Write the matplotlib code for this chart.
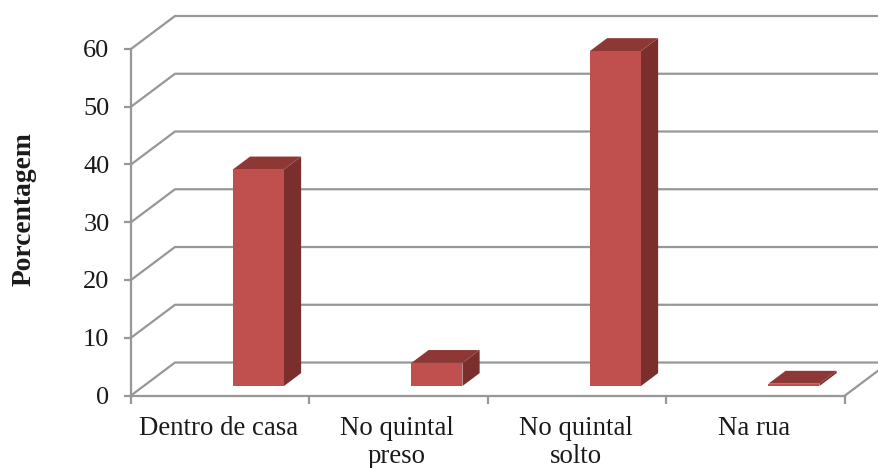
import matplotlib
matplotlib.use("Agg")
import matplotlib.pyplot as plt
from matplotlib.patches import Polygon

plt.rcParams['font.family'] = ['Liberation Serif', 'DejaVu Serif']

categories = ["Dentro de casa", "No quintal\npreso", "No quintal\nsolto", "Na rua"]
percentages = [37.5, 4.0, 58.0, 0.4]
y_ticks = [0, 10, 20, 30, 40, 50, 60]

# Oblique projection of the chart box: full depth shifts right and upward
DEPTH_X = 0.2465   # category units
DEPTH_Y = 5.71     # percentage units
BAR_WIDTH = 0.286
BAR_DEPTH_START = 0.288
BAR_DEPTH_END = 0.678

GRID = "#979797"
FRONT = "#C0504D"
TOP = "#8E3836"
SIDE = "#7A2F2D"
TEXT = "#1a1a1a"


def project(x, y, d):
    return (x + d * DEPTH_X, y + d * DEPTH_Y)


W, H = 879, 468
fig = plt.figure(figsize=(W / 100, H / 100), dpi=100, facecolor="white")
ax = fig.add_axes([131 / W, 1 - 395.5 / H, (845 + 44 - 131) / W, (395.5 - 16) / H])
ax.set_xlim(0, 4 + DEPTH_X)
ax.set_ylim(0, 60 + DEPTH_Y)
ax.patch.set_visible(False)
for side in ax.spines.values():
    side.set_visible(False)

# Back-wall gridlines, each joined to its axis tick by a slanted segment
for v in y_ticks:
    p0 = project(0, v, 0)
    p1 = project(0, v, 1)
    p2 = project(4, v, 1)
    ax.plot([p0[0], p1[0], p2[0]], [p0[1], p1[1], p2[1]], color=GRID, lw=1.6,
            solid_joinstyle="miter", clip_on=False, zorder=1)

# Axis lines and the right edge of the floor
ax.plot([0, 0], [0, 60], color=GRID, lw=1.6, clip_on=False, zorder=2)
ax.plot([0, 4], [0, 0], color=GRID, lw=1.6, clip_on=False, zorder=2)
p_end = project(4, 0, 1)
ax.plot([4, p_end[0]], [0, p_end[1]], color=GRID, lw=1.6, clip_on=False, zorder=2)

# Bars drawn as three visible faces
for i, v in enumerate(percentages):
    x0 = i + 0.5
    x1 = x0 + BAR_WIDTH
    a, b = BAR_DEPTH_START, BAR_DEPTH_END
    front = [project(x0, 0, a), project(x1, 0, a), project(x1, v, a), project(x0, v, a)]
    top = [project(x0, v, a), project(x1, v, a), project(x1, v, b), project(x0, v, b)]
    right = [project(x1, 0, a), project(x1, 0, b), project(x1, v, b), project(x1, v, a)]
    ax.add_patch(Polygon(right, closed=True, fc=SIDE, ec="none", zorder=3, clip_on=False))
    ax.add_patch(Polygon(top, closed=True, fc=TOP, ec="none", zorder=3, clip_on=False))
    ax.add_patch(Polygon(front, closed=True, fc=FRONT, ec="none", zorder=4, clip_on=False))

# Ticks
ax.set_yticks(y_ticks)
ax.set_yticklabels([str(v) for v in y_ticks], fontsize=19, color=TEXT)
ax.tick_params(axis="y", length=5, width=1.6, color=GRID, pad=10.5)
ax.set_xticks(range(5))
ax.set_xticklabels([""] * 5)
ax.tick_params(axis="x", length=5.5, width=1.6, color=GRID)
ax.set_xticks([i + 0.49 for i in range(4)], minor=True)
ax.set_xticklabels(categories, minor=True, fontsize=19.3, color=TEXT, linespacing=1.13)
ax.tick_params(axis="x", which="minor", length=0, pad=15)

fig.text(24 / W, 1 - 209 / H, "Porcentagem", rotation=90, fontsize=19.8,
         fontweight="bold", color=TEXT, ha="center", va="center")

fig.savefig("out.png", dpi=100)
